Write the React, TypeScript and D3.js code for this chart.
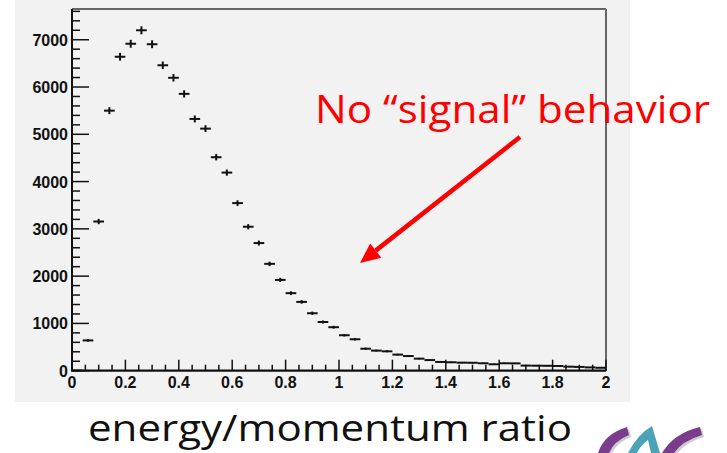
import React from "react";
import * as d3 from "d3";

const binCenters = [
  0.02, 0.06, 0.1, 0.14, 0.18, 0.22, 0.26, 0.3, 0.34, 0.38,
  0.42, 0.46, 0.5, 0.54, 0.58, 0.62, 0.66, 0.7, 0.74, 0.78,
  0.82, 0.86, 0.9, 0.94, 0.98, 1.02, 1.06, 1.1, 1.14, 1.18,
  1.22, 1.26, 1.3, 1.34, 1.38, 1.42, 1.46, 1.5, 1.54, 1.58,
  1.62, 1.66, 1.7, 1.74, 1.78, 1.82, 1.86, 1.9, 1.94, 1.98,
];
const counts = [
  5, 640, 3155, 5500, 6640, 6915, 7200, 6905, 6460, 6195,
  5855, 5325, 5120, 4515, 4190, 3545, 3045, 2700, 2260, 1920,
  1640, 1455, 1215, 1030, 920, 750, 665, 465, 425, 410,
  340, 310, 255, 225, 185, 178, 170, 168, 157, 136,
  157, 155, 108, 106, 104, 100, 85, 80, 70, 62,
];
const binWidth = 0.04;
const xTickLabels = ["0", "0.2", "0.4", "0.6", "0.8", "1", "1.2", "1.4", "1.6", "1.8", "2"];
const yTickLabels = ["0", "1000", "2000", "3000", "4000", "5000", "6000", "7000"];
const xAxisTitle = "energy/momentum ratio";
const annotation = "No \u201csignal\u201d behavior";

export default function App() {
  const W = 727;
  const H = 453;
  const x = d3.scaleLinear().domain([0, 2]).range([72, 606]);
  const y = d3.scaleLinear().domain([0, 7650]).range([370.7, 9]);

  const xMinor = d3.range(0, 2.0001, 0.05);
  const yMinor = d3.range(0, 7650, 200);

  const tip = [360, 263];
  const tail = [520, 137];
  const dx = tip[0] - tail[0];
  const dy = tip[1] - tail[1];
  const len = Math.hypot(dx, dy);
  const ux = dx / len;
  const uy = dy / len;
  const headL = 20;
  const headW = 9;
  const bx = tip[0] - headL * ux;
  const by = tip[1] - headL * uy;
  const head = [
    [tip[0], tip[1]],
    [bx - headW * uy, by + headW * ux],
    [bx + headW * uy, by - headW * ux],
  ];

  const labelFont = "'Liberation Sans', Arial, sans-serif";

  return (
    <svg
      width={W}
      height={H}
      style={{ position: "absolute", left: 0, top: 0, background: "#fff" }}
    >
      <rect x={15} y={0} width={615} height={402} fill="#f2f2f2" />

      {/* frame top/right */}
      <line x1={x(0)} y1={9} x2={x(2)} y2={9} stroke="#666" strokeWidth={2} />
      <line x1={x(2)} y1={9} x2={x(2)} y2={y(0)} stroke="#666" strokeWidth={2} />

      {/* x ticks */}
      {xMinor.map((v, i) => {
        const major = Math.abs(v / 0.2 - Math.round(v / 0.2)) < 1e-6;
        return (
          <line
            key={"xm" + i}
            x1={x(v)}
            x2={x(v)}
            y1={y(0)}
            y2={y(0) - (major ? 11 : 6)}
            stroke="#111"
            strokeWidth={1.5}
          />
        );
      })}
      {/* y ticks */}
      {yMinor.map((v, i) => {
        const major = v % 1000 === 0;
        return (
          <line
            key={"ym" + i}
            x1={x(0)}
            x2={x(0) + (major ? 17 : 8)}
            y1={y(v)}
            y2={y(v)}
            stroke="#111"
            strokeWidth={1.5}
          />
        );
      })}

      {/* axes */}
      <line x1={x(0)} y1={9} x2={x(0)} y2={y(0)} stroke="#111" strokeWidth={2} />
      <line x1={x(0) - 1} y1={y(0)} x2={x(2)} y2={y(0)} stroke="#111" strokeWidth={2.2} />

      {/* tick labels */}
      {xTickLabels.map((t, i) => (
        <text
          key={"xl" + i}
          x={x(+t)}
          y={387.5}
          textAnchor="middle"
          fontFamily={labelFont}
          fontWeight="bold"
          fontSize={16}
          fill="#111"
        >
          {t}
        </text>
      ))}
      {yTickLabels.map((t, i) => (
        <text
          key={"yl" + i}
          x={68}
          y={y(+t) + 6}
          textAnchor="end"
          fontFamily={labelFont}
          fontWeight="bold"
          fontSize={16}
          fill="#111"
        >
          {t}
        </text>
      ))}

      {/* data points */}
      {binCenters.map((c, i) => {
        const v = counts[i];
        const e = Math.sqrt(v);
        return (
          <g key={"p" + i} stroke="#111" strokeWidth={2}>
            <line x1={x(c - binWidth / 2)} x2={x(c + binWidth / 2)} y1={y(v)} y2={y(v)} />
            <line x1={x(c)} x2={x(c)} y1={y(v - e)} y2={y(v + e)} />
          </g>
        );
      })}

      {/* annotation */}
      <text
        x={315}
        y={123}
        fontFamily="'Open Sans', 'Noto Sans', sans-serif"
        fontSize={38}
        fill="#ff0000"
        textLength={395}
        lengthAdjust="spacingAndGlyphs"
      >
        {annotation}
      </text>
      <line
        x1={tail[0]}
        y1={tail[1]}
        x2={bx}
        y2={by}
        stroke="#ff0000"
        strokeWidth={4.5}
      />
      <polygon points={head.map((p) => p.join(",")).join(" ")} fill="#ff0000" />

      {/* axis title */}
      <text
        x={88}
        y={441}
        fontFamily="'Open Sans', 'Noto Sans', sans-serif"
        fontSize={36}
        fill="#111"
        textLength={484}
        lengthAdjust="spacingAndGlyphs"
      >
        {xAxisTitle}
      </text>

      {/* logo */}
      <g>
        <path d="M 627 427 Q 604 434 598 453 L 609 453 Q 614 441 629 435 Z" fill="#ccc" transform="translate(2,2)" />
        <path d="M 627 427 Q 604 434 598 453 L 609 453 Q 614 441 629 435 Z" fill="#7a3d8c" />
        <path d="M 628 453 Q 638 434 652 426 L 660 453 L 651 453 L 648 440 Q 640 446 637 453 Z" fill="#4ba3b5" />
        <path d="M 700 427 Q 674 433 662 453 L 674 453 Q 682 441 702 435 Z" fill="#ccc" transform="translate(2,2)" />
        <path d="M 700 427 Q 674 433 662 453 L 674 453 Q 682 441 702 435 Z" fill="#7a3d8c" />
      </g>
    </svg>
  );
}
